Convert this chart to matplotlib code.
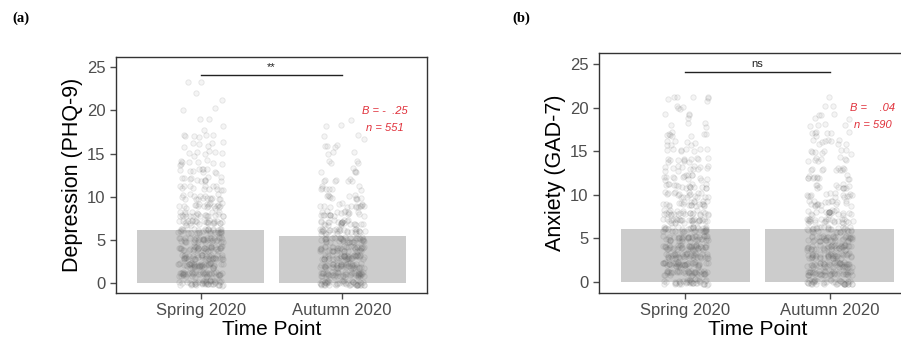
import numpy as np
import matplotlib
matplotlib.use("Agg")
import matplotlib.pyplot as plt

plt.rcParams['font.family'] = ['Liberation Sans', 'DejaVu Sans']

categories = ["Spring 2020", "Autumn 2020"]

# bar heights (group means)
dep_means = [6.2, 5.4]
anx_means = [6.1, 6.1]

# approximate counts of individual scores (score 0,1,2,...) read from the jittered clouds
dep_spring_counts = [45, 45, 45, 42, 40, 38, 34, 28, 24, 20, 17, 13, 12, 10, 9, 7, 6, 6, 2, 2, 2, 1, 1, 2]
dep_autumn_counts = [50, 50, 48, 45, 42, 40, 32, 26, 20, 15, 11, 8, 7, 5, 4, 3, 4, 3, 2, 1]
anx_spring_counts = [40, 42, 44, 44, 44, 40, 36, 30, 26, 22, 19, 17, 15, 13, 12, 8, 7, 8, 4, 4, 4, 7]
anx_autumn_counts = [44, 44, 44, 42, 40, 38, 32, 26, 22, 18, 14, 12, 11, 10, 8, 8, 9, 7, 4, 5, 2, 1]

dep_stats = ["B = -  .25", "n = 551"]
anx_stats = ["B =    .04", "n = 590"]
dep_sig = "**"
anx_sig = "ns"

yticks = [0, 5, 10, 15, 20, 25]

W, H = 901, 344
fig = plt.figure(figsize=(W / 100, H / 100), dpi=100)


def frac(l, t, r, b):
    return [l / W, 1 - b / H, (r - l) / W, (b - t) / H]


def hash01(k, salt):
    v = np.sin(k * 12.9898 + salt * 78.233) * 43758.5453
    return v - np.floor(v)


def jitter_points(ax, counts_list):
    for gi, counts in enumerate(counts_list):
        vals = np.repeat(np.arange(len(counts)), counts)
        idx = np.arange(len(vals)) + 1.0
        jx = (hash01(idx, 1.7 + gi) - 0.5) * 2 * 0.16
        jy = (hash01(idx, 5.3 + gi) - 0.5) * 2 * 0.3
        ax.scatter(gi + 1 + jx, vals + jy, s=15,
                   facecolors=(0.45, 0.45, 0.45, 0.08),
                   edgecolors=(0.35, 0.35, 0.35, 0.13), linewidths=0.6, zorder=3)


def panel(ax, means, counts_list, ylabel, stats, sig, ylim):
    xs = np.arange(1, len(categories) + 1)
    ax.bar(xs, means, width=0.9, color='#CCCCCC', zorder=1)
    jitter_points(ax, counts_list)
    ax.plot([1, 2], [24.1, 24.1], color='#222222', lw=1.0, zorder=4)
    ax.text(1.5, 24.45, sig, ha='center', va='bottom', fontsize=8, color='#222222')
    ax.text(2.30, 19.9, stats[0], ha='center', va='center', fontsize=8,
            style='italic', color='#E0303A')
    ax.text(2.30, 18.0, stats[1], ha='center', va='center', fontsize=8,
            style='italic', color='#E0303A')
    ax.set_xlim(0.4, 2.6)
    ax.set_ylim(*ylim)
    ax.set_xticks(xs)
    ax.set_xticklabels(categories)
    ax.set_yticks(yticks)
    ax.tick_params(axis='both', labelsize=12, colors='#4D4D4D', length=4, width=1.0,
                   labelcolor='#4D4D4D')
    for sp in ax.spines.values():
        sp.set_color('#333333')
        sp.set_linewidth(1.0)
    ax.set_xlabel("Time Point", fontsize=15, labelpad=1)
    ax.set_ylabel(ylabel, fontsize=15.5, labelpad=3)


ax1 = fig.add_axes(frac(116, 57, 427, 293))
panel(ax1, dep_means, [dep_spring_counts, dep_autumn_counts], "Depression (PHQ-9)",
      dep_stats, dep_sig, (-1.16, 26.2))

ax2 = fig.add_axes(frac(599, 53, 916, 293))
panel(ax2, anx_means, [anx_spring_counts, anx_autumn_counts], "Anxiety (GAD-7)",
      anx_stats, anx_sig, (-1.26, 26.26))

fig.text(12 / W, 1 - 18 / H, "(a)", fontsize=10.5, fontweight='bold',
         family=['Liberation Serif', 'DejaVu Serif'], va='center', ha='left')
fig.text(512 / W, 1 - 18 / H, "(b)", fontsize=10.5, fontweight='bold',
         family=['Liberation Serif', 'DejaVu Serif'], va='center', ha='left')

fig.savefig("out.png", dpi=100)
